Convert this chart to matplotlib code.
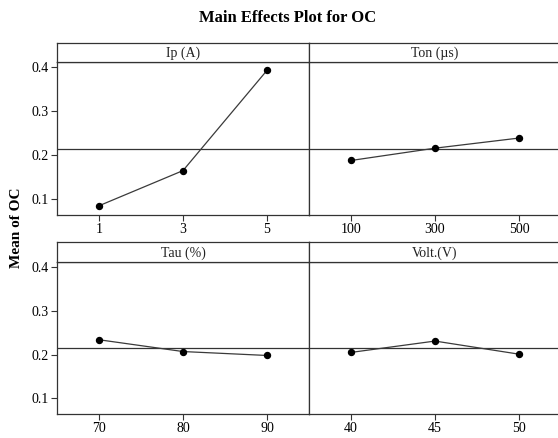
import matplotlib
matplotlib.use("Agg")
import matplotlib.pyplot as plt

factors = ["Ip (A)", "Ton (µs)", "Tau (%)", "Volt.(V)"]
levels = [["1", "3", "5"], ["100", "300", "500"], ["70", "80", "90"], ["40", "45", "50"]]
means = [[0.085, 0.165, 0.393],
         [0.188, 0.216, 0.239],
         [0.234, 0.207, 0.198],
         [0.205, 0.231, 0.201]]
grand_mean = 0.214
yticks = [0.1, 0.2, 0.3, 0.4]

plt.rcParams['font.family'] = ['Liberation Serif', 'DejaVu Serif']
W, H = 558, 438
fig = plt.figure(figsize=(W / 100, H / 100), dpi=100)

edge = '#333333'
# panel geometry in pixels: (left, right, strip_top, strip_bottom, bottom)
cols = [(57, 309), (309, 561)]
rows = [(43, 62, 215), (242, 262, 414)]

def fr(l, r, t, b):
    return [l / W, 1 - b / H, (r - l) / W, (b - t) / H]

for i, name in enumerate(factors):
    ri, ci = divmod(i, 2)
    l, r = cols[ci]
    st, sb, bt = rows[ri]
    ax = fig.add_axes(fr(l, r, sb, bt))
    x = list(range(len(levels[i])))
    ax.axhline(grand_mean, color='#333333', lw=0.9, zorder=1)
    ax.plot(x, means[i], color='#3a3a3a', lw=0.9, marker='o', ms=4.3,
            mfc='black', mec='black', zorder=3)
    ax.set_xlim(-0.5, 2.5)
    ax.set_ylim(0.064, 0.412)
    ax.set_xticks(x)
    ax.set_xticklabels(levels[i])
    ax.set_yticks(yticks)
    if ci == 0:
        ax.set_yticklabels([f"{v:.1f}" for v in yticks])
        ax.tick_params(axis='y', length=4, color=edge, labelsize=10, pad=2)
    else:
        ax.tick_params(axis='y', left=False, labelleft=False)
    ax.tick_params(axis='x', length=4, color=edge, labelsize=10, pad=2)
    for s in ax.spines.values():
        s.set_color(edge)
        s.set_linewidth(0.9)
    # strip
    sx = fig.add_axes(fr(l, r, st, sb))
    sx.set_xticks([])
    sx.set_yticks([])
    for s in sx.spines.values():
        s.set_color(edge)
        s.set_linewidth(0.9)
    sx.text(0.5, 0.45, name, transform=sx.transAxes, ha='center', va='center',
            fontsize=10, color='#222222')

fig.text(288 / W, 1 - 18 / H, "Main Effects Plot for OC", ha='center', va='center',
         fontsize=12, fontweight='bold')
fig.text(17 / W, 1 - 228 / H, "Mean of OC", ha='center', va='center',
         rotation=90, fontsize=11, fontweight='bold')

fig.savefig("out.png", dpi=100)
